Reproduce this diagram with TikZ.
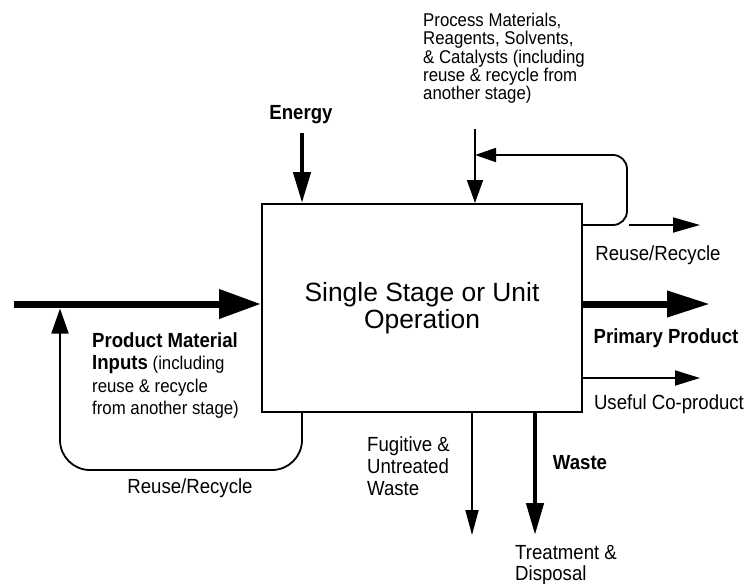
\documentclass[tikz,border=0pt]{standalone}
\usepackage{fontspec}
\setmainfont{Liberation Sans}
\usetikzlibrary{arrows.meta}
\begin{document}
\begin{tikzpicture}[x=1pt,y=-1pt,
  tall/.style={yscale=1.1},
  lbl/.style={tall, inner sep=0pt, align=left, font=\fontsize{18.6}{20}\selectfont},
  lblb/.style={tall, inner sep=0pt, font=\fontsize{18.6}{20}\selectfont\bfseries},
  small/.style={tall, inner sep=0pt, align=left, font=\fontsize{16.8}{16.6}\selectfont},
  thinarrow/.style={line width=1.8pt, -{Triangle[length=25pt,width=15pt]}},
  midarrow/.style={line width=4.5pt, -{Triangle[length=31pt,width=17pt]}},
  heavyarrow/.style={line width=7pt, -{Triangle[length=43pt,width=27pt]}},
  unitbox/.style={draw, line width=2pt, minimum width=320pt, minimum height=208pt,
    inner sep=0pt, align=center, font=\fontsize{26.4}{26.5}\selectfont}
]
\useasboundingbox (0,0) rectangle (748,584);

% the process stage
\node[unitbox] (unit) at (422,308) {Single Stage or Unit\\Operation};

% energy input
\node[lblb] (energy) at (301,115) {Energy};
\coordinate (energySrc) at (302,133);
\draw[midarrow] (energySrc) -- (energySrc |- unit.north);

% process materials input with its recycle loop
\node[small, anchor=north west] (procmat) at (423,13)
  {Process Materials,\\Reagents, Solvents,\\\& Catalysts (including\\reuse \& recycle from\\another stage)};
\coordinate (procSrc) at (475,129);
\draw[thinarrow, -{Triangle[length=23pt,width=16pt]}] (procSrc) -- (procSrc |- unit.north);
\coordinate (loopOut) at (627,225);
\coordinate (loopTop) at (627,155);
\draw[line width=1.8pt, rounded corners=14pt, -{Triangle[length=21pt,width=14pt]}]
  (unit.east |- loopOut) -- (loopOut) -- (loopTop) -- (procSrc |- loopTop);

% outputs on the right
\coordinate (rrSrc) at (629,225);
\coordinate (rrTip) at (700,225);
\draw[thinarrow, -{Triangle[length=27pt,width=15pt]}] (rrSrc) -- (rrTip);
\node[lbl] (rrHigh) at (658,255) {Reuse/Recycle};

\coordinate (primTip) at (710,304);
\draw[heavyarrow, -{Triangle[length=43pt,width=25pt]}] (unit.east |- primTip) -- (primTip);
\node[lblb] (primary) at (666,338.5) {Primary Product};

\coordinate (coTip) at (700,378);
\draw[thinarrow] (unit.east |- coTip) -- (coTip);
\node[lbl] (coprod) at (669,404) {Useful Co-product};

% product material inputs on the left
\coordinate (inSrc) at (14,304);
\draw[heavyarrow, -{Triangle[length=42pt,width=28pt]}] (inSrc) -- (inSrc -| unit.west);
\node[small, anchor=north west, font=\fontsize{16.8}{20.5}\selectfont] (pmi) at (92,332)
  {{\fontsize{18.6}{20.5}\selectfont\bfseries Product Material}\\
   {\fontsize{18.6}{20.5}\selectfont\bfseries Inputs} (including\\
   reuse \& recycle\\from another stage)};

% recycle loop under the stage
\coordinate (llOut) at (302,470);
\coordinate (llBack) at (60,470);
\coordinate (llTip) at (60,308.5);
\draw[line width=1.8pt, rounded corners=30pt, -{Triangle[length=25pt,width=17pt]}]
  (unit.south -| llOut) -- (llOut) -- (llBack) -- (llTip);
\node[lbl] (rrLow) at (190,488) {Reuse/Recycle};

% releases below the stage
\coordinate (fugTip) at (472,535);
\draw[thinarrow, -{Triangle[length=25pt,width=13pt]}] (unit.south -| fugTip) -- (fugTip);
\node[lbl, anchor=north west] (fugitive) at (367,436) {Fugitive \&\\Untreated\\Waste};

\coordinate (wasteTip) at (535,535);
\draw[midarrow, -{Triangle[length=32pt,width=17pt]}] (unit.south -| wasteTip) -- (wasteTip);
\node[lblb] (waste) at (580,463) {Waste};
\node[lbl, anchor=north west, font=\fontsize{18.6}{19.6}\selectfont] (treat) at (515,545) {Treatment \&\\Disposal};
\end{tikzpicture}
\end{document}
